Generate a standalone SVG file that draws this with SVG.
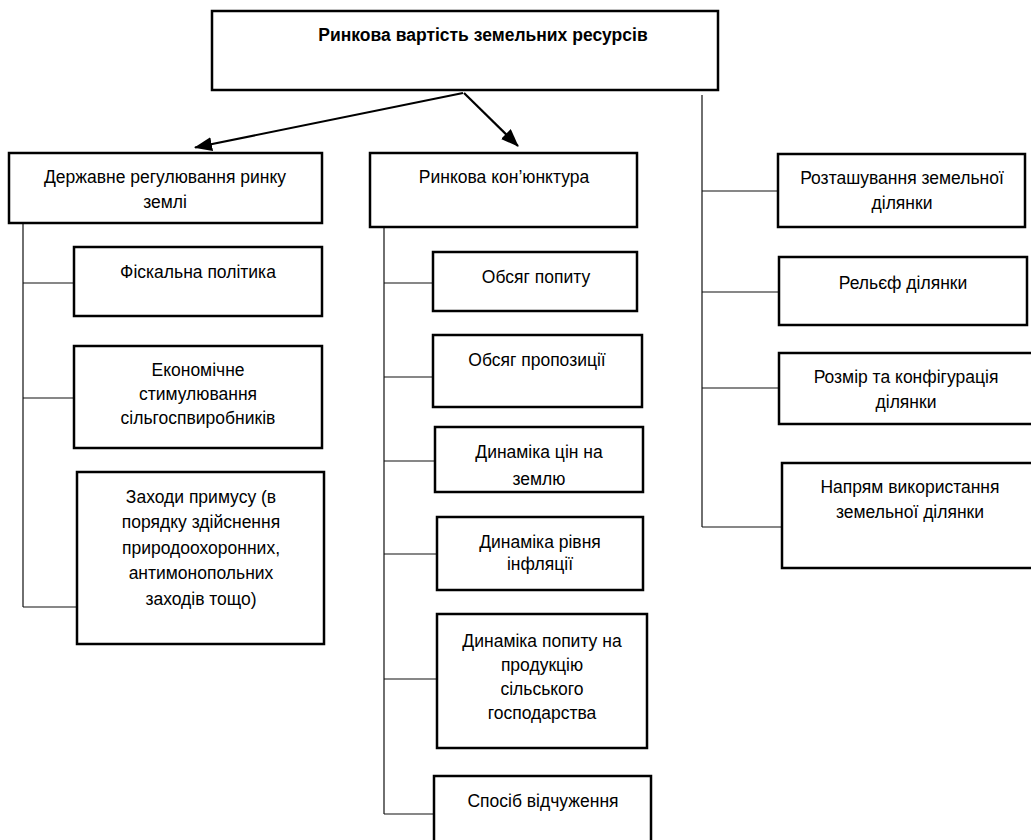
<svg xmlns="http://www.w3.org/2000/svg" width="1031" height="840" viewBox="0 0 1031 840">
<style>
rect.box{fill:#fff;stroke:#000;stroke-width:2.5}
text{font-family:"Liberation Sans",Arial,sans-serif;font-size:17.5px;fill:#000;text-anchor:middle}
text.title{font-weight:bold;font-size:17.5px}
.conn line,.conn path{stroke:#111;stroke-width:1.2;fill:none}
.conn .arrow{stroke:#000;stroke-width:2.2}
</style>
<defs>
<marker id="ah" markerUnits="userSpaceOnUse" markerWidth="20" markerHeight="16" refX="17" refY="7" orient="auto">
<path d="M0,0 L18,7 L0,14 Z" fill="#000"/>
</marker>
</defs>
<g class="conn" id="connectors">
<line class="arrow" x1="463" y1="93" x2="195" y2="147.5" marker-end="url(#ah)"/>
<line class="arrow" x1="464" y1="93" x2="518" y2="146" marker-end="url(#ah)"/>
<path d="M23,223 V607 M23,283 H78 M23,398 H79 M23,607 H78"/>
<path d="M384,227 V814 M384,283 H438 M384,377 H437 M384,461 H436 M384,554 H438 M384,679 H438 M384,814 H436"/>
<path d="M702,95 V527 M702,191 H780 M702,292 H781 M702,388 H781 M702,527 H784"/>
</g>
<g id="root"><rect class="box" x="212" y="11" width="506" height="79"/><text class="title" x="483" y="41">Ринкова вартість земельних ресурсів</text></g>
<g id="n-derzh"><rect class="box" x="9" y="153" width="313" height="70"/><text x="165" y="183">Державне регулювання ринку</text><text x="165" y="208">землі</text></g>
<g id="n-fisk"><rect class="box" x="74" y="247" width="248" height="69"/><text x="198" y="278">Фіскальна політика</text></g>
<g id="n-econ"><rect class="box" x="74" y="346" width="248" height="102"/><text x="198" y="376">Економічне</text><text x="198" y="400">стимулювання</text><text x="198" y="424">сільгоспвиробників</text></g>
<g id="n-zakh"><rect class="box" x="77" y="472" width="247" height="172"/><text x="201" y="503">Заходи примусу (в</text><text x="201" y="528">порядку здійснення</text><text x="201" y="554">природоохоронних,</text><text x="201" y="579">антимонопольних</text><text x="201" y="605">заходів тощо)</text></g>
<g id="n-kon"><rect class="box" x="370" y="153" width="267" height="74"/><text x="504" y="183">Ринкова кон’юнктура</text></g>
<g id="n-popyt"><rect class="box" x="433" y="252" width="204" height="59"/><text x="536" y="283">Обсяг попиту</text></g>
<g id="n-prop"><rect class="box" x="433" y="335" width="209" height="72"/><text x="537" y="366">Обсяг пропозиції</text></g>
<g id="n-tsin"><rect class="box" x="435" y="427" width="208" height="65"/><text x="539" y="458">Динаміка цін на</text><text x="539" y="485">землю</text></g>
<g id="n-infl"><rect class="box" x="437" y="517" width="206" height="73"/><text x="540" y="548">Динаміка рівня</text><text x="540" y="570">інфляції</text></g>
<g id="n-dyn"><rect class="box" x="437" y="614" width="210" height="134"/><text x="542" y="647">Динаміка попиту на</text><text x="542" y="671">продукцію</text><text x="542" y="695">сільського</text><text x="542" y="719">господарства</text></g>
<g id="n-sposib"><rect class="box" x="434" y="776" width="217" height="80"/><text x="543" y="807">Спосіб відчуження</text></g>
<g id="n-rozt"><rect class="box" x="778" y="154" width="247" height="73"/><text x="902" y="184">Розташування земельної</text><text x="902" y="209">ділянки</text></g>
<g id="n-rel"><rect class="box" x="779" y="257" width="248" height="68"/><text x="903" y="289">Рельєф ділянки</text></g>
<g id="n-rozm"><rect class="box" x="779" y="353" width="270" height="71"/><text x="906" y="383">Розмір та конфігурація</text><text x="906" y="408">ділянки</text></g>
<g id="n-napr"><rect class="box" x="782" y="463" width="270" height="105"/><text x="910" y="493">Напрям використання</text><text x="910" y="518">земельної ділянки</text></g>
</svg>
